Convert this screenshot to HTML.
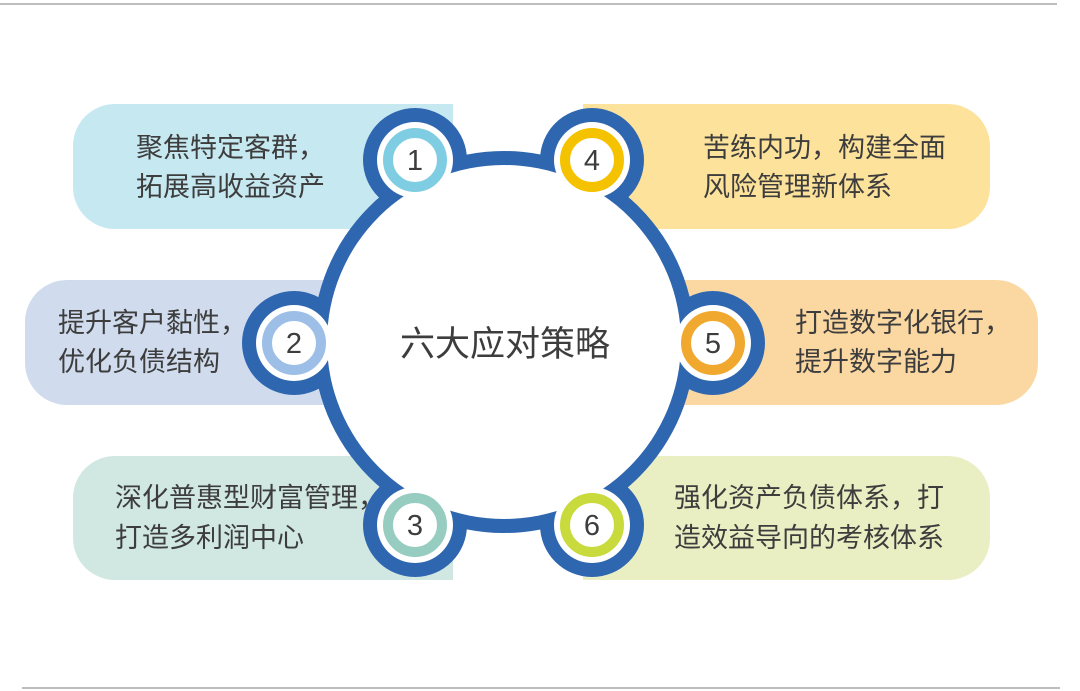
<!DOCTYPE html>
<html><head><meta charset="utf-8"><style>
body{margin:0;background:#fff;}
svg{display:block;}
text{font-family:"Liberation Sans","Noto Sans CJK SC",sans-serif;fill:#3d3d3d;}
</style></head><body>
<svg width="1080" height="691" viewBox="0 0 1080 691">
<line x1="0" y1="4" x2="1057" y2="4" stroke="#bdbdbd" stroke-width="2"/>
<line x1="22" y1="688" x2="1060" y2="688" stroke="#bdbdbd" stroke-width="2"/>
<path d="M115 104 H453 V229 H115 A42 42 0 0 1 73 187 V146 A42 42 0 0 1 115 104Z" fill="#c6e8f0"/>
<path d="M583 104 H948 A42 42 0 0 1 990 146 V187 A42 42 0 0 1 948 229 H583Z" fill="#fde29b"/>
<path d="M67 280 H340 V405 H67 A42 42 0 0 1 25 363 V322 A42 42 0 0 1 67 280Z" fill="#d0dcee"/>
<path d="M680 280 H996 A42 42 0 0 1 1038 322 V363 A42 42 0 0 1 996 405 H680Z" fill="#fbd8a2"/>
<path d="M115 456 H453 V580 H115 A42 42 0 0 1 73 538 V498 A42 42 0 0 1 115 456Z" fill="#d0e8e1"/>
<path d="M583 456 H948 A42 42 0 0 1 990 498 V538 A42 42 0 0 1 948 580 H583Z" fill="#e9efc2"/>
<circle cx="504" cy="342" r="191" fill="#2e66b0"/>
<g fill="#2e66b0">
<circle cx="415" cy="160" r="52"/><circle cx="592" cy="160" r="52"/>
<circle cx="294" cy="343" r="52"/><circle cx="713" cy="343" r="52"/>
<circle cx="415" cy="525" r="52"/><circle cx="592" cy="525" r="52"/>
</g>
<circle cx="504" cy="342" r="177" fill="#fff"/>
<g fill="#fff">
<circle cx="415" cy="160" r="38"/><circle cx="592" cy="160" r="38"/>
<circle cx="294" cy="343" r="38"/><circle cx="713" cy="343" r="38"/>
<circle cx="415" cy="525" r="38"/><circle cx="592" cy="525" r="38"/>
</g>
<g fill="#fff" stroke-width="10">
<circle cx="415" cy="160" r="27" stroke="#7fcde2"/>
<circle cx="592" cy="160" r="27" stroke="#f5c200"/>
<circle cx="294" cy="343" r="27" stroke="#9dbfe7"/>
<circle cx="713" cy="343" r="27" stroke="#f0a92e"/>
<circle cx="415" cy="525" r="27" stroke="#97ccc0"/>
<circle cx="592" cy="525" r="27" stroke="#c9da3c"/>
</g>
<g font-size="29" text-anchor="middle">
<text x="415" y="170">1</text><text x="592" y="170">4</text>
<text x="294" y="353">2</text><text x="713" y="353">5</text>
<text x="415" y="535">3</text><text x="592" y="535">6</text>
</g>
<text x="505" y="356" font-size="35" text-anchor="middle">六大应对策略</text>
<g font-size="27">
<text x="136" y="157">聚焦特定客群，</text><text x="136" y="196">拓展高收益资产</text>
<text x="703" y="157">苦练内功，构建全面</text><text x="703" y="196">风险管理新体系</text>
<text x="58" y="332">提升客户黏性，</text><text x="58" y="371">优化负债结构</text>
<text x="795" y="332">打造数字化银行，</text><text x="795" y="371">提升数字能力</text>
<text x="115" y="507">深化普惠型财富管理，</text><text x="115" y="547">打造多利润中心</text>
<text x="674" y="507">强化资产负债体系，打</text><text x="674" y="547">造效益导向的考核体系</text>
</g>
</svg>
</body></html>
